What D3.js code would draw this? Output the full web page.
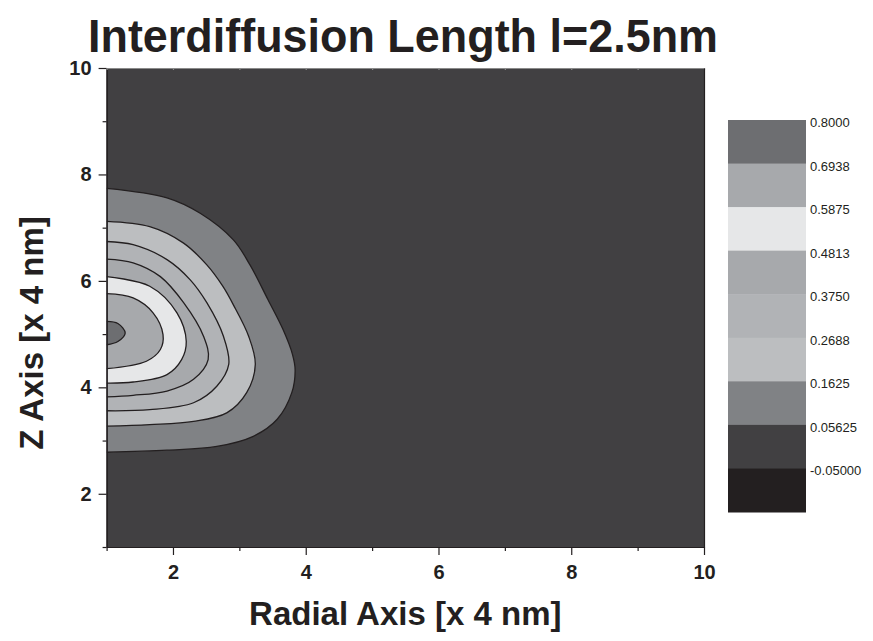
<!DOCTYPE html>
<html>
<head>
<meta charset="utf-8">
<script src="https://cdn.jsdelivr.net/npm/d3@7"></script>
<style>
  html, body { margin: 0; padding: 0; background: #ffffff; }
  svg { display: block; }
  text { font-family: "Liberation Sans", Arial, Helvetica, sans-serif; fill: #231f20; }
</style>
</head>
<body>
<svg id="chart" width="873" height="641"></svg>
<script>
// ---------------- data ----------------
const titleText = "Interdiffusion Length l=2.5nm";
const xLabel = "Radial Axis [x 4 nm]";
const yLabel = "Z Axis [x 4 nm]";

const xMajorTicks = [2, 4, 6, 8, 10];
const xMinorTicks = [1, 3, 5, 7, 9];
const yMajorTicks = [2, 4, 6, 8, 10];
const yMinorTicks = [1, 3, 5, 7, 9];

// contour levels (legend boundaries, top to bottom)
const levels = [0.8000, 0.6938, 0.5875, 0.4813, 0.3750, 0.2688, 0.1625, 0.05625, -0.05000];
const levelLabels = ["0.8000", "0.6938", "0.5875", "0.4813", "0.3750", "0.2688", "0.1625", "0.05625", "-0.05000"];
// colour of the band just below each label
const bandColors = ["#6d6e71", "#a7a9ac", "#e6e7e8", "#a7a9ac", "#b1b3b6", "#bcbec0", "#808285", "#414042", "#231f20"];

// contour boundaries, [radial, z]
const c05625 = [[1.00,7.74],[1.91,7.56],[2.41,7.27],[2.91,6.77],[3.16,6.30],[3.43,5.65],[3.66,5.08],[3.80,4.62],[3.84,4.33],[3.79,3.90],[3.57,3.40],[3.21,3.08],[2.66,2.89],[1.91,2.82],[1.00,2.78]];
const c1625  = [[1.00,7.12],[1.65,7.02],[2.16,6.71],[2.51,6.30],[2.75,5.90],[2.91,5.55],[3.14,4.96],[3.24,4.43],[3.11,3.90],[2.81,3.52],[2.31,3.36],[1.65,3.30],[1.00,3.27]];
const c2688  = [[1.00,6.74],[1.40,6.68],[1.91,6.40],[2.26,6.02],[2.51,5.59],[2.76,4.96],[2.84,4.43],[2.66,4.02],[2.31,3.71],[1.65,3.58],[1.00,3.56]];
const c3750  = [[1.00,6.41],[1.40,6.34],[1.81,6.08],[2.16,5.59],[2.46,4.96],[2.53,4.52],[2.31,4.15],[1.91,3.93],[1.40,3.85],[1.00,3.82]];
const c4813  = [[1.00,6.08],[1.65,5.90],[2.06,5.40],[2.20,4.86],[2.13,4.52],[1.91,4.24],[1.40,4.10],[1.00,4.08]];
const c5875  = [[1.00,5.76],[1.40,5.68],[1.70,5.40],[1.85,4.99],[1.81,4.71],[1.60,4.49],[1.00,4.35]];
const c6938  = [[1.00,5.24],[1.17,5.20],[1.28,5.02],[1.17,4.86],[1.00,4.80]];

const contourSets = [
  {level: 0.05625, pts: c05625},
  {level: 0.1625,  pts: c1625},
  {level: 0.2688,  pts: c2688},
  {level: 0.3750,  pts: c3750},
  {level: 0.4813,  pts: c4813},
  {level: 0.5875,  pts: c5875},
  {level: 0.6938,  pts: c6938}
];

// ---------------- drawing ----------------
const svg = d3.select("#chart");
const plot = {left: 106.6, right: 704, top: 68, bottom: 547};

const x = d3.scaleLinear().domain([1, 10]).range([plot.left, plot.right]);
const y = d3.scaleLinear().domain([1, 10]).range([plot.bottom, plot.top]);

// region above a level (up to the next higher level) takes the band colour just above that label
function colorAboveLevel(lv) {
  const i = levels.indexOf(lv);
  return bandColors[i - 1];
}

svg.append("clipPath").attr("id", "plotClip")
  .append("rect")
  .attr("x", plot.left).attr("y", plot.top)
  .attr("width", plot.right - plot.left).attr("height", plot.bottom - plot.top);

const g = svg.append("g").attr("clip-path", "url(#plotClip)");

// background = band between -0.05 and 0.05625
g.append("rect")
  .attr("x", x(1)).attr("y", y(10))
  .attr("width", x(10) - x(1)).attr("height", y(1) - y(10))
  .attr("fill", colorAboveLevel(-0.05000));

const line = d3.line()
  .x(d => x(d[0])).y(d => y(d[1]))
  .curve(d3.curveCatmullRom.alpha(0.5));

contourSets.forEach(cs => {
  g.append("path")
    .attr("d", line(cs.pts) + "Z")
    .attr("fill", colorAboveLevel(cs.level))
    .attr("stroke", "none");
  g.append("path")
    .attr("d", line(cs.pts))
    .attr("fill", "none")
    .attr("stroke", "#231f20")
    .attr("stroke-width", 1.3);
});

// axes
function styleAxis(sel, color) {
  sel.selectAll("path.domain").attr("stroke", color).attr("stroke-width", 1.2);
  sel.selectAll(".tick line").attr("stroke", color).attr("stroke-width", 1.2);
  sel.selectAll(".tick text")
    .style("font-family", "'Liberation Sans', Arial, sans-serif")
    .style("font-weight", "bold")
    .style("font-size", "20px")
    .attr("fill", "#231f20");
}

const xAxisMinor = svg.append("g").attr("transform", `translate(0,${plot.bottom})`)
  .call(d3.axisBottom(x).tickValues(xMinorTicks).tickSize(4).tickSizeOuter(0).tickFormat(""));
styleAxis(xAxisMinor, "#231f20");
const xAxis = svg.append("g").attr("transform", `translate(0,${plot.bottom})`)
  .call(d3.axisBottom(x).tickValues(xMajorTicks).tickSize(8).tickSizeOuter(0).tickPadding(10).tickFormat(d3.format("d")));
styleAxis(xAxis, "#231f20");

const yAxisMinor = svg.append("g").attr("transform", `translate(${plot.left},0)`)
  .call(d3.axisLeft(y).tickValues(yMinorTicks).tickSize(4).tickSizeOuter(0).tickFormat(""));
styleAxis(yAxisMinor, "#231f20");
const yAxis = svg.append("g").attr("transform", `translate(${plot.left},0)`)
  .call(d3.axisLeft(y).tickValues(yMajorTicks).tickSize(8).tickSizeOuter(0).tickPadding(7).tickFormat(d3.format("d")));
styleAxis(yAxis, "#231f20");

const topAxis = svg.append("g").attr("transform", `translate(0,${plot.top})`)
  .call(d3.axisTop(x).tickValues(xMajorTicks.concat(xMinorTicks)).tickSize(-2).tickSizeOuter(0).tickFormat(""));
styleAxis(topAxis, "#8a8a8a");
const rightAxis = svg.append("g").attr("transform", `translate(${plot.right},0)`)
  .call(d3.axisRight(y).tickValues([]).tickSizeOuter(0));
styleAxis(rightAxis, "#231f20");

// title
svg.append("text")
  .attr("x", 403).attr("y", 52)
  .attr("text-anchor", "middle")
  .attr("textLength", 630).attr("lengthAdjust", "spacingAndGlyphs")
  .style("font-weight", "bold").style("font-size", "47px")
  .text(titleText);

// axis labels
svg.append("text")
  .attr("x", (plot.left + plot.right) / 2).attr("y", 625)
  .attr("text-anchor", "middle")
  .style("font-weight", "bold").style("font-size", "33px")
  .text(xLabel);

svg.append("text")
  .attr("transform", "translate(43,333) rotate(-90)")
  .attr("text-anchor", "middle")
  .style("font-weight", "bold").style("font-size", "33px")
  .text(yLabel);

// legend
const legTop = 120, legBottom = 512, legX = 728, legW = 78;
const ly = d3.scaleBand().domain(d3.range(levels.length)).range([legTop, legBottom]).padding(0);
const leg = svg.append("g");
leg.selectAll("rect").data(bandColors).join("rect")
  .attr("x", legX).attr("y", (d, i) => ly(i))
  .attr("width", legW).attr("height", ly.bandwidth() + 0.5)
  .attr("fill", d => d);
leg.selectAll("text").data(levelLabels).join("text")
  .attr("x", legX + legW + 4)
  .attr("y", (d, i) => ly(i) + 7)
  .style("font-size", "13px")
  .text(d => d);
</script>
</body>
</html>
